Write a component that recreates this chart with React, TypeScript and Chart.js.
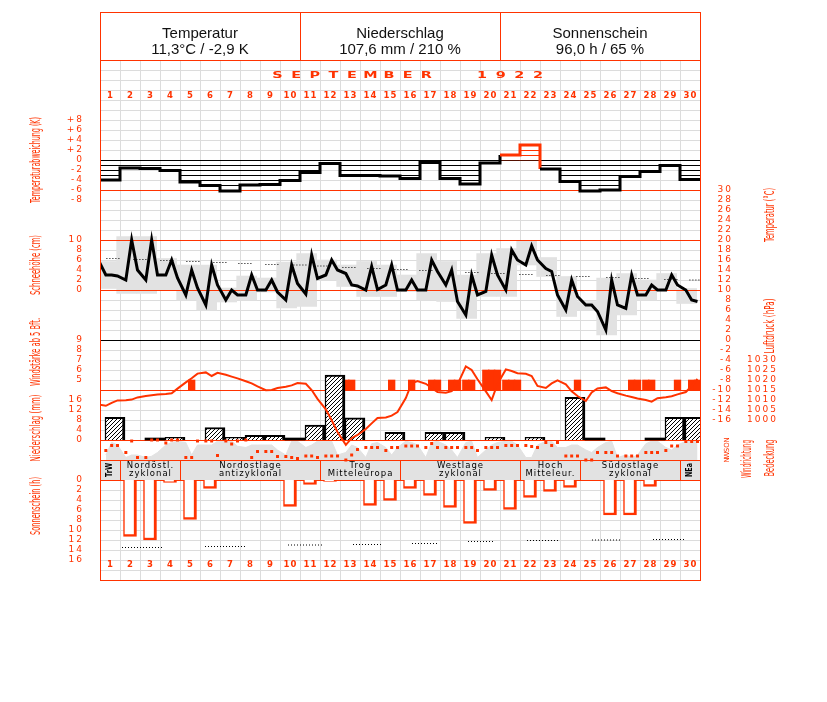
import React, { useEffect, useRef } from 'react';
import { Chart, registerables } from 'chart.js';

Chart.register(...registerables);

// ---------------- data ----------------
const days = Array.from({ length: 30 }, (_, i) => i + 1);
const observationHours = [7, 14, 21];

const headerTitles = ['Temperatur', 'Niederschlag', 'Sonnenschein'];
const headerValues = ['11,3°C / -2,9 K', '107,6 mm / 210 %', '96,0 h / 65 %'];
const monthTitle = 'SEPTEMBER  1922';

// daily temperature deviation (K)
const tempDeviation = [-4.0, -1.6, -1.7, -2.1, -4.4, -5.1, -6.2, -5.0, -4.9, -4.1, -2.5, -0.7, -3.1, -3.1, -3.2, -3.7, -0.5, -3.7, -4.8, -0.6, 1.0, 3.0, -1.8, -4.3, -6.2, -6.0, -3.3, -2.3, -1.1, -3.9];

// temperature at the three observation times (°C)
const tempPrevEvening = 16.3;
const temp7 = [13.0, 12.0, 12.0, 13.0, 9.0, 7.0, 8.0, 9.0, 10.0, 8.0, 9.2, 13.0, 13.3, 10.0, 11.0, 10.0, 10.0, 11.0, 5.0, 9.7, 10.0, 15.0, 14.3, 6.0, 7.0, 2.0, 6.3, 9.0, 10.0, 10.0];
const temp14 = [13.0, 20.0, 20.0, 16.0, 14.0, 15.0, 10.0, 13.0, 12.0, 15.0, 17.0, 16.0, 11.0, 14.7, 15.0, 12.0, 16.0, 14.0, 13.0, 17.0, 18.0, 18.8, 13.7, 12.0, 7.0, 12.0, 13.0, 11.0, 13.0, 8.0];
const temp21 = [12.8, 14.0, 13.0, 12.4, 10.4, 11.0, 9.0, 10.0, 9.6, 11.3, 12.3, 14.0, 10.8, 10.1, 10.0, 10.0, 13.7, 7.7, 9.0, 13.0, 16.0, 16.0, 9.0, 8.7, 5.7, 7.0, 9.0, 10.0, 11.0, 7.7];

// daily min / max (°C)
const tempMin = [10.3, 9.3, 9.3, 10.0, 8.0, 6.0, 7.6, 8.0, 9.6, 6.4, 6.7, 12.0, 10.7, 8.7, 8.7, 9.7, 8.0, 7.7, 4.3, 8.7, 8.7, 15.0, 12.7, 4.7, 6.0, 1.0, 5.0, 8.0, 10.0, 7.3];
const tempMax = [15.7, 20.7, 20.7, 16.3, 15.0, 15.0, 10.4, 12.8, 12.4, 15.6, 17.3, 16.0, 15.0, 15.7, 15.0, 13.0, 17.3, 15.7, 13.0, 17.3, 18.3, 19.9, 16.5, 12.7, 7.7, 12.4, 13.3, 12.0, 13.3, 10.3];

// normal temperature markers (day position, °C)
const normalTempPos = [0.65, 2.0, 3.35, 4.65, 6.0, 7.25, 8.6, 10.0, 11.2, 12.45, 13.7, 15.05, 16.3, 18.6, 19.9, 21.3, 22.65, 24.15, 25.65, 27.1, 28.55, 29.8];
const normalTemp = [16.3, 16.1, 15.9, 15.7, 15.5, 15.3, 15.1, 15.0, 14.8, 14.5, 14.3, 14.1, 13.9, 13.5, 13.3, 13.1, 12.9, 12.7, 12.5, 12.3, 12.1, 12.0];

// wind force >= 5 Bft at observation times (0 = below 5)
const windBft7 = [0, 0, 0, 0, 0, 0, 0, 0, 0, 0, 0, 0, 5, 0, 0, 0, 0, 0, 5, 6, 5, 0, 0, 0, 0, 0, 0, 5, 0, 0];
const windBft14 = [0, 0, 0, 0, 5, 0, 0, 0, 0, 0, 0, 0, 5, 0, 5, 5, 5, 5, 5, 6, 5, 0, 0, 0, 0, 0, 5, 5, 0, 5];
const windBft21 = [0, 0, 0, 0, 0, 0, 0, 0, 0, 0, 0, 0, 0, 0, 0, 0, 5, 5, 0, 6, 5, 0, 0, 5, 0, 0, 5, 0, 5, 5];

// precipitation (mm)
const precipitation = [9.1, 0, 0, 1.1, 0, 5.0, 1.1, 1.9, 1.9, 0, 6.0, 26.0, 8.9, 0, 3.1, 0, 3.1, 3.1, 0, 1.1, 0, 1.1, 0, 17.1, 0, 0, 0, 0, 9.1, 9.1];
const precipTraceDays = [3, 10, 25, 28];

// air pressure (hPa)
const pressurePrevEvening = 1007.9;
const pressure7 = [1007.1, 1009.9, 1012.0, 1013.0, 1018.8, 1023.8, 1022.6, 1019.4, 1014.9, 1016.6, 1018.1, 1005.3, 987.6, 995.5, 1001.3, 1011.0, 1018.1, 1013.6, 1026.8, 1014.3, 1025.3, 1023.1, 1016.0, 1017.8, 1009.5, 1016.3, 1012.2, 1010.0, 1011.4, 1014.0];
const pressure14 = [1008.6, 1010.2, 1012.4, 1013.4, 1020.9, 1022.0, 1021.7, 1018.3, 1015.0, 1017.3, 1015.0, 999.9, 990.9, 998.3, 1002.2, 1018.4, 1016.0, 1014.4, 1025.0, 1010.0, 1024.5, 1022.0, 1018.3, 1014.3, 1013.8, 1014.4, 1011.5, 1009.2, 1011.9, 1017.0];
const pressure21 = [1009.8, 1011.3, 1012.7, 1015.7, 1023.2, 1023.6, 1020.8, 1016.8, 1016.0, 1018.5, 1010.6, 994.0, 992.5, 1001.0, 1004.0, 1019.5, 1014.0, 1017.8, 1020.4, 1018.0, 1023.4, 1017.0, 1019.8, 1012.0, 1015.8, 1013.4, 1010.8, 1010.9, 1012.8, 1020.5];

// wind direction (0 = N, 1 = O, 2 = S, 3 = W, 4 = N)
const windDir7 = [2.1, 2.5, 3.5, 0.6, 3.5, 0.2, 0.2, 0, 2.3, 3.3, 3.2, 3.2, 4, 1.5, 2.1, 1.2, 1.5, 1.5, 1.5, 1.5, 1.1, 1.1, 0.5, 3.2, 4, 2.5, 3.2, 2.5, 2.1, 0.3];
const windDir14 = [1.1, 0.2, 0, 0, 3.5, 0.2, 0.8, 3.5, 2.3, 3.5, 3.2, 3.2, 3.0, 1.5, 1.5, 1.2, 0.7, 1.5, 1.5, 1.5, 1.1, 1.3, 1.1, 3.2, 4, 2.5, 3.2, 2.5, 1.2, 0.3];
const windDir21 = [1.1, 3.5, 0, 0, 0.2, 3.1, 0.2, 2.3, 3.3, 3.7, 3.5, 3.2, 1.9, 1.5, 1.5, 1.2, 1.5, 1.5, 2.1, 1.5, 1.1, 1.5, 0.5, 3.2, 2.5, 3.2, 3.2, 2.5, 1.2, 0.3];

// cloud cover (octas)
const cloud7 = [2, 1, 1, 6, 7, 6, 7.5, 5, 6, 2, 5, 7.5, 3, 1, 5, 7.5, 1, 6, 7, 4, 7.5, 1, 7.5, 5, 4, 7, 2, 6.5, 5, 7.5];
const cloud14 = [7, 2, 1.5, 7, 2, 6, 7.5, 6, 6, 7.5, 6, 7.5, 6, 6.5, 2, 7, 7, 4, 7.5, 6, 7.5, 1, 7.5, 6, 3, 7.5, 1, 7.5, 4, 7.5];
const cloud21 = [6, 2, 3, 7.5, 6, 7.5, 5.5, 6, 4, 7.5, 7.5, 2, 5, 7, 5, 6, 7.5, 1, 1, 7, 6, 6, 5, 6, 5, 1, 2, 7.5, 6, 7.5];

// sunshine (h)
const sunshine = [0, 11.3, 12.0, 0.5, 7.9, 1.7, 0, 0, 0, 5.3, 0.9, 0.3, 0, 5.1, 4.1, 1.7, 3.1, 5.5, 8.7, 2.1, 5.9, 3.5, 2.3, 1.5, 0, 7.0, 7.0, 1.3, 0, 0];
const sunNormStart = [1.1, 5.25, 9.4, 12.65, 15.6, 18.4, 21.35, 24.6, 27.65];
const sunNormEnd = [3.1, 7.25, 11.15, 14.1, 16.85, 19.75, 22.9, 26.0, 29.2];
const sunNorm = [13.5, 13.3, 13.0, 12.9, 12.7, 12.3, 12.1, 12.0, 11.9];

// weather types
const weatherTypeStart = [1, 2, 5, 12, 16, 22, 25, 30];
const weatherTypeEnd = [1, 4, 11, 15, 21, 24, 29, 30];
const weatherTypeLabels = [['TrW'], ['Nordöstl.', 'zyklonal'], ['Nordostlage', 'antizyklonal'], ['Trog', 'Mitteleuropa'], ['Westlage', 'zyklonal'], ['Hoch', 'Mitteleur.'], ['Südostlage', 'zyklonal'], ['NEa']];

// tick labels
const tempDevTicks = [8, 6, 4, 2, 0, -2, -4, -6, -8];
const snowTicks = [10, 8, 6, 4, 2, 0];
const windTicks = [9, 8, 7, 6, 5];
const precipTicks = [16, 12, 8, 4, 0];
const sunTicks = [0, 2, 4, 6, 8, 10, 12, 14, 16];
const tempTicks = [30, 28, 26, 24, 22, 20, 18, 16, 14, 12, 10, 8, 6, 4, 2, 0, -2, -4, -6, -8, -10, -12, -14, -16];
const pressureTicks = [1030, 1025, 1020, 1015, 1010, 1005, 1000];
const windDirLabels = ['N', 'O', 'S', 'W', 'N'];

// ---------------- styles ----------------
const RED = '#ff3300';
const GRID = '#dcdcdc';
const GRAY = '#e2e2e2';
const BLACK = '#000000';
const TICK_FONT = '9px "DejaVu Sans"';
const AXTITLE_FONT = '14px "DejaVu Sans"';
const GRID_ROWS = 52;

const obsSeries = (a7: number[], a14: number[], a21: number[]) =>
  days.flatMap((d, i) => [a7, a14, a21].map((arr, k) => ({ x: d - 1 + observationHours[k] / 24, y: arr[i] })));

function drawText(ctx: CanvasRenderingContext2D, s: string, x: number, y: number, font: string, color: string, align = 'left', spacing = 0, sx = 1, baseline: CanvasTextBaseline = 'middle') {
  ctx.save();
  ctx.font = font;
  ctx.fillStyle = color;
  ctx.textBaseline = baseline;
  ctx.textAlign = 'left';
  (ctx as any).letterSpacing = spacing + 'px';
  let w = ctx.measureText(s).width;
  if (spacing) w -= spacing;
  w *= sx;
  const x0 = align === 'left' ? x : align === 'right' ? x - w : x - w / 2;
  ctx.translate(x0, y);
  ctx.scale(sx, 1);
  ctx.fillText(s, 0, 0);
  ctx.restore();
}

function drawVText(ctx: CanvasRenderingContext2D, s: string, cx: number, cy: number, font: string, color: string, len = 0) {
  ctx.save();
  ctx.translate(cx, cy);
  ctx.rotate(-Math.PI / 2);
  ctx.font = font;
  ctx.fillStyle = color;
  ctx.textAlign = 'center';
  ctx.textBaseline = 'middle';
  if (len) {
    const w = ctx.measureText(s).width;
    ctx.scale(len / w, 1);
  }
  ctx.fillText(s, 0, 0);
  ctx.restore();
}

function hLine(ctx: CanvasRenderingContext2D, x0: number, x1: number, y: number, color: string) {
  const yy = Math.round(y) + 0.5;
  ctx.save();
  ctx.strokeStyle = color;
  ctx.lineWidth = 1;
  ctx.beginPath();
  ctx.moveTo(x0, yy);
  ctx.lineTo(x1, yy);
  ctx.stroke();
  ctx.restore();
}

const separators = [
  { axis: 'tdev', v: 0, c: BLACK },
  { axis: 'temp', v: 30, c: RED },
  { axis: 'temp', v: 20, c: RED },
  { axis: 'temp', v: 10, c: RED },
  { axis: 'temp', v: 0, c: BLACK },
  { axis: 'wind', v: 4, c: RED },
  { axis: 'precip', v: 0, c: RED },
];

const decor = {
  id: 'decor',
  beforeDatasetsDraw(chart: any) {
    const { ctx, chartArea } = chart;
    const xs = chart.scales.x;
    const rows = chart.scales.row;
    const L = xs.getPixelForValue(0);
    const R = xs.getPixelForValue(30);
    const top = rows.getPixelForValue(GRID_ROWS);
    const bottom = rows.getPixelForValue(0);
    ctx.save();
    ctx.fillStyle = '#ffffff';
    ctx.fillRect(L, chartArea.top, R - L, chartArea.bottom - chartArea.top);
    ctx.strokeStyle = GRID;
    ctx.lineWidth = 1;
    ctx.beginPath();
    for (let k = 0; k <= 30; k++) {
      const x = Math.round(xs.getPixelForValue(k)) + 0.5;
      ctx.moveTo(x, top);
      ctx.lineTo(x, bottom);
    }
    for (let r = 0; r <= GRID_ROWS; r++) {
      const y = Math.round(rows.getPixelForValue(r)) + 0.5;
      ctx.moveTo(L, y);
      ctx.lineTo(R, y);
    }
    ctx.stroke();
    // blank strip for wind direction / cloud cover
    const y0 = chart.scales.precip.getPixelForValue(0);
    const y1 = chart.scales.cloud.getPixelForValue(0);
    const y2 = chart.scales.sun.getPixelForValue(0);
    ctx.fillStyle = '#ffffff';
    ctx.fillRect(L, y0, R - L, y1 - y0);
    // weather type band
    ctx.fillStyle = GRAY;
    ctx.fillRect(L, y1, R - L, y2 - y1);
    ctx.strokeStyle = RED;
    ctx.beginPath();
    weatherTypeStart.forEach((s, i) => {
      const xa = Math.round(xs.getPixelForValue(s - 1)) + 0.5;
      const xb = Math.round(xs.getPixelForValue(weatherTypeEnd[i])) + 0.5;
      ctx.moveTo(xa, y1); ctx.lineTo(xa, y2);
      ctx.moveTo(xb, y1); ctx.lineTo(xb, y2);
    });
    ctx.stroke();
    hLine(ctx, L, R, y1, RED);
    hLine(ctx, L, R, y2, RED);
    weatherTypeStart.forEach((s, i) => {
      const cx = (xs.getPixelForValue(s - 1) + xs.getPixelForValue(weatherTypeEnd[i])) / 2;
      const lab = weatherTypeLabels[i];
      if (lab.length === 1) {
        drawVText(ctx, lab[0], cx, (y1 + y2) / 2, 'bold 8px "DejaVu Sans"', BLACK, 14);
      } else {
        drawText(ctx, lab[0], cx, y1 + 6, '8.5px "DejaVu Sans"', BLACK, 'center', 1);
        drawText(ctx, lab[1], cx, y1 + 14, '8.5px "DejaVu Sans"', BLACK, 'center', 1);
      }
    });
    ctx.restore();
  },
  afterDatasetDraw(chart: any, args: any) {
    const ds = chart.data.datasets[args.index];
    if (ds.label !== 'Bedeckung') return;
    const { ctx } = chart;
    const xs = chart.scales.x;
    const L = xs.getPixelForValue(0);
    const R = xs.getPixelForValue(30);
    separators.forEach((s) => hLine(ctx, L, R, chart.scales[s.axis].getPixelForValue(s.v), s.c));
  },
  afterDraw(chart: any) {
    const { ctx, chartArea } = chart;
    const xs = chart.scales.x;
    const px = (v: number) => xs.getPixelForValue(v);
    const L = px(0);
    const R = px(30);
    const headerBottom = chart.scales.row.getPixelForValue(GRID_ROWS);
    ctx.save();
    ctx.fillStyle = '#ffffff';
    ctx.fillRect(L, chartArea.top, R - L, headerBottom - chartArea.top);
    ctx.strokeStyle = RED;
    ctx.lineWidth = 1;
    ctx.beginPath();
    [10, 20].forEach((d) => {
      const x = Math.round(px(d)) + 0.5;
      ctx.moveTo(x, chartArea.top);
      ctx.lineTo(x, headerBottom);
    });
    ctx.stroke();
    hLine(ctx, L, R, headerBottom, RED);
    ctx.strokeRect(Math.round(L) + 0.5, Math.round(chartArea.top) + 0.5, Math.round(R - L), Math.round(chartArea.bottom - chartArea.top));
    // header texts
    headerTitles.forEach((t, i) => {
      const cx = px(i * 10 + 5);
      drawText(ctx, t, cx, 38, '15px "Liberation Sans", Arial', '#111', 'center', 0, 1, 'alphabetic');
      drawText(ctx, headerValues[i], cx, 54, '15px "Liberation Sans", Arial', '#111', 'center', 0, 1, 'alphabetic');
    });
    // month title
    monthTitle.split('').forEach((ch, i) => {
      if (ch !== ' ') drawText(ctx, ch, 277.5 + i * 18.6, 75.5, 'bold 9px "DejaVu Sans"', RED, 'center', 0, 1.6);
    });
    // day numbers
    days.forEach((d) => {
      drawText(ctx, String(d), px(d - 0.5), 96, 'bold 8.5px "DejaVu Sans"', RED, 'center', 1);
      drawText(ctx, String(d), px(d - 0.5), 565, 'bold 8.5px "DejaVu Sans"', RED, 'center', 1);
    });
    // ticks
    const tickSets = [
      { axis: 'tdev', values: tempDevTicks, x: 82, fmt: (v: number) => (v > 0 ? '+' + v : String(v)) },
      { axis: 'snow', values: snowTicks, x: 82, fmt: String },
      { axis: 'wind', values: windTicks, x: 82, fmt: String },
      { axis: 'precip', values: precipTicks, x: 82, fmt: String },
      { axis: 'sun', values: sunTicks, x: 82, fmt: String },
      { axis: 'temp', values: tempTicks, x: 731, fmt: String },
      { axis: 'press', values: pressureTicks, x: 776, fmt: String },
    ];
    tickSets.forEach((t) => {
      t.values.forEach((v) => {
        drawText(ctx, t.fmt(v), t.x, chart.scales[t.axis].getPixelForValue(v), TICK_FONT, RED, 'right', 2);
      });
    });
    windDirLabels.forEach((s, i) => {
      drawVText(ctx, s, 727, chart.scales.wdir.getPixelForValue(i), '7px "DejaVu Sans"', RED);
    });
    // axis titles
    const titles = [
      { t: 'Temperaturabweichung (K)', x: 36, y: 160, len: 86 },
      { t: 'Schneehöhe (cm)', x: 36, y: 265, len: 60 },
      { t: 'Windstärke ab 5 Bft.', x: 36, y: 352, len: 68 },
      { t: 'Niederschlag (mm)', x: 36, y: 428, len: 67 },
      { t: 'Sonnenschein (h)', x: 36, y: 506, len: 58 },
      { t: 'Temperatur (°C)', x: 770, y: 215, len: 54 },
      { t: 'Luftdruck (hPa)', x: 770, y: 326, len: 55 },
      { t: 'Windrichtung', x: 747, y: 459, len: 38 },
      { t: 'Bedeckung', x: 770, y: 458, len: 37 },
    ];
    titles.forEach((a) => drawVText(ctx, a.t, a.x, a.y, AXTITLE_FONT, RED, a.len));
    ctx.restore();
  },
};

function makePattern(ctx: CanvasRenderingContext2D, kind: string, color: string) {
  const c = document.createElement('canvas');
  const g = c.getContext('2d')!;
  if (kind === 'h') {
    c.width = 4; c.height = 5;
    g.fillStyle = color;
    g.fillRect(0, 0, 4, 1);
  } else {
    c.width = 4; c.height = 4;
    g.fillStyle = '#ffffff';
    g.fillRect(0, 0, 4, 4);
    g.fillStyle = color;
    for (let i = 0; i < 4; i++) g.fillRect(3 - i, i, 1, 1);
  }
  return ctx.createPattern(c, 'repeat')!;
}

export default function App() {
  const ref = useRef<HTMLCanvasElement>(null);
  useEffect(() => {
    document.body.style.margin = '0';
    const canvas = ref.current!;
    const ctx = canvas.getContext('2d')!;
    const hBlack = makePattern(ctx, 'h', BLACK);
    const hRed = makePattern(ctx, 'h', RED);
    const hatch = makePattern(ctx, 'd', BLACK);

    const tempLine = [{ x: -3 / 24, y: tempPrevEvening }, ...obsSeries(temp7, temp14, temp21)];
    const pressLine = [{ x: -3 / 24, y: pressurePrevEvening }, ...obsSeries(pressure7, pressure14, pressure21)];
    const windBars = obsSeries(windBft7, windBft14, windBft21).filter((p) => p.y > 0).map((p) => ({ x: p.x, y: [4, p.y] }));
    const normalData: any[] = [];
    normalTempPos.forEach((p, i) => {
      normalData.push({ x: p - 0.33, y: normalTemp[i] }, { x: p + 0.33, y: normalTemp[i] }, { x: p + 0.34, y: null });
    });
    const sunNormData: any[] = [];
    sunNormStart.forEach((s, i) => {
      sunNormData.push({ x: s, y: sunNorm[i] }, { x: sunNormEnd[i], y: sunNorm[i] }, { x: sunNormEnd[i] + 0.01, y: null });
    });
    const tdevStep = [...tempDeviation.map((v, i) => ({ x: i, y: v })), { x: 30, y: tempDeviation[29] }];

    const chart = new Chart(canvas, {
      type: 'line',
      data: {
        datasets: [
          { type: 'bar', label: 'Tmin/Tmax', yAxisID: 'temp', data: days.map((d, i) => ({ x: d - 0.5 - 1 / 6, y: [tempMin[i], tempMax[i]] })), backgroundColor: GRAY, barThickness: 20, order: 30 } as any,
          { type: 'line', label: 'Bedeckung', yAxisID: 'cloud', data: obsSeries(cloud7, cloud14, cloud21), fill: 'origin', backgroundColor: GRAY, borderColor: GRAY, borderWidth: 1, pointRadius: 0, order: 29 },
          { type: 'bar', label: 'Abweichung', yAxisID: 'tdev', data: days.map((d, i) => ({ x: d - 0.5, y: tempDeviation[i] })), backgroundColor: tempDeviation.map((v) => (v > 0 ? hRed : hBlack)), barThickness: 20, order: 20 } as any,
          { type: 'line', label: 'Abweichung Linie', yAxisID: 'tdev', data: tdevStep, stepped: 'before', borderWidth: 3, borderColor: BLACK, pointRadius: 0, segment: { borderColor: (c: any) => (c.p0.parsed.y > 0 ? RED : BLACK) }, order: 19 },
          { type: 'line', label: 'Temperatur', yAxisID: 'temp', data: tempLine, borderWidth: 3, borderColor: BLACK, pointRadius: 0, tension: 0, order: 18 },
          { type: 'line', label: 'Normal', yAxisID: 'temp', data: normalData, borderWidth: 1, borderDash: [1, 2], borderColor: BLACK, pointRadius: 0, spanGaps: false, order: 17 },
          { type: 'bar', label: 'Wind', yAxisID: 'wind', data: windBars, backgroundColor: RED, barThickness: 6.67, order: 15 } as any,
          { type: 'bar', label: 'Niederschlag', yAxisID: 'precip', data: days.filter((d, i) => precipitation[i] > 0).map((d) => ({ x: d - 0.25, y: precipitation[d - 1] })), backgroundColor: hatch, borderColor: BLACK, borderWidth: { top: 2, left: 1.5, right: 3, bottom: 0 }, borderSkipped: false, barThickness: 20, order: 14 } as any,
          { type: 'bar', label: 'Spur', yAxisID: 'precip', data: precipTraceDays.map((d) => ({ x: d - 0.25, y: [0, 0.8] })), backgroundColor: BLACK, barThickness: 20, order: 13 } as any,
          { type: 'line', label: 'Luftdruck', yAxisID: 'press', data: pressLine, borderWidth: 2, borderColor: RED, pointRadius: 0, tension: 0, order: 12 },
          { type: 'line', label: 'Windrichtung', yAxisID: 'wdir', data: obsSeries(windDir7, windDir14, windDir21), showLine: false, pointStyle: 'rect', pointRadius: 2.1, pointBackgroundColor: RED, pointBorderWidth: 0, order: 11 },
          { type: 'bar', label: 'Sonnenschein', yAxisID: 'sun', data: days.filter((d, i) => sunshine[i] > 0).map((d) => ({ x: d - 0.5, y: sunshine[d - 1] })), backgroundColor: '#ffffff', borderColor: RED, borderWidth: { top: 0, left: 1.5, right: 3, bottom: 2.5 }, borderSkipped: false, barThickness: 13, order: 10 } as any,
          { type: 'line', label: 'Sonnenschein möglich', yAxisID: 'sun', data: sunNormData, borderWidth: 1, borderDash: [1, 2], borderColor: BLACK, pointRadius: 0, spanGaps: false, order: 9 },
        ],
      },
      options: {
        animation: false,
        responsive: false,
        maintainAspectRatio: false,
        devicePixelRatio: 1,
        events: [],
        layout: { padding: { left: 100, right: 127, top: 12, bottom: 122 } },
        plugins: { legend: { display: false }, title: { display: false }, tooltip: { enabled: false } },
        scales: {
          x: { type: 'linear', min: 0, max: 30, display: false, offset: false, stacked: true },
          row: { type: 'linear', axis: 'y', position: 'left', min: 0, max: 56.8, display: false },
          tdev: { type: 'linear', axis: 'y', position: 'left', min: -84, max: 29.6, display: false, stacked: false },
          snow: { type: 'linear', axis: 'y', position: 'left', min: -58, max: 55.6, display: false },
          temp: { type: 'linear', axis: 'y', position: 'left', min: -48, max: 65.6, display: false, stacked: false },
          press: { type: 'linear', axis: 'y', position: 'left', min: 920, max: 1204, display: false, stacked: false },
          wind: { type: 'linear', axis: 'y', position: 'left', min: -15, max: 41.8, display: false, stacked: false },
          precip: { type: 'linear', axis: 'y', position: 'left', min: -56, max: 171.2, display: false, stacked: false },
          cloud: { type: 'linear', axis: 'y', position: 'left', min: -48, max: 179.2, display: false, stacked: false },
          wdir: { type: 'linear', axis: 'y', position: 'left', min: -85.6, max: 28, reverse: true, display: false, stacked: false },
          sun: { type: 'linear', axis: 'y', position: 'left', min: -93.6, max: 20, reverse: true, display: false, stacked: false },
        } as any,
      },
      plugins: [decor],
    } as any);
    return () => chart.destroy();
  }, []);
  return <canvas ref={ref} width={827} height={702} style={{ display: 'block', width: 827, height: 702 }} />;
}
